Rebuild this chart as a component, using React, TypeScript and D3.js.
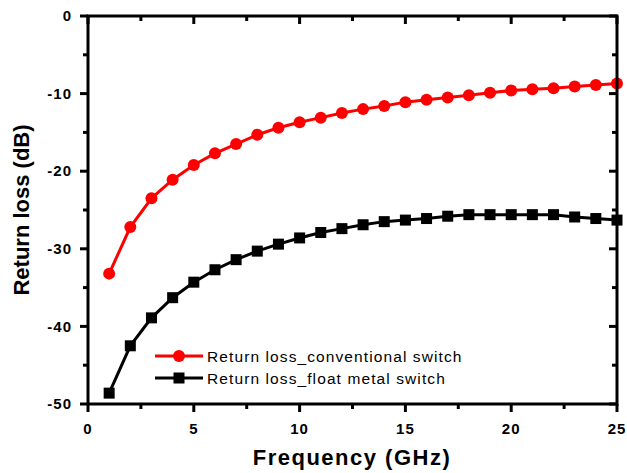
import React from "react";
import * as d3 from "d3";

const freqs = [1,2,3,4,5,6,7,8,9,10,11,12,13,14,15,16,17,18,19,20,21,22,23,24,25];
const conventional = [-33.2,-27.2,-23.5,-21.1,-19.2,-17.7,-16.5,-15.3,-14.4,-13.7,-13.1,-12.5,-12.0,-11.6,-11.1,-10.8,-10.5,-10.2,-9.9,-9.6,-9.45,-9.3,-9.1,-8.9,-8.7];
const floatMetal = [-48.6,-42.5,-38.9,-36.3,-34.3,-32.7,-31.4,-30.3,-29.4,-28.6,-27.9,-27.4,-26.9,-26.5,-26.3,-26.1,-25.8,-25.6,-25.6,-25.6,-25.6,-25.6,-25.9,-26.1,-26.3];
const xTicks = [0,5,10,15,20,25];
const yTicks = [0,-10,-20,-30,-40,-50];
const xMinor = [2.5,7.5,12.5,17.5,22.5];
const yMinor = [-5,-15,-25,-35,-45];
const legendLabels = ["Return loss_conventional switch", "Return loss_float metal switch"];

export default function App() {
  const W = 627, H = 473;
  const L = 88, R = 617, T = 16, B = 404;
  const x = d3.scaleLinear().domain([0, 25]).range([L, R]);
  const y = d3.scaleLinear().domain([-50, 0]).range([B, T]);
  const pathOf = (vals: number[]) =>
    d3.line<number>().x((_, i) => x(freqs[i])).y(d => y(d))(vals) || "";
  const font = "Arial, 'Liberation Sans', sans-serif";
  const sq = 11;
  return (
    <svg width={W} height={H} style={{ position: "absolute", left: 0, top: 0 }}>
      <rect x={0} y={0} width={W} height={H} fill="#fff" />
      {/* series */}
      <path d={pathOf(conventional)} fill="none" stroke="#ff0000" strokeWidth={3} />
      {conventional.map((v, i) => (
        <circle key={"c" + i} cx={x(freqs[i])} cy={y(v)} r={6} fill="#ff0000" />
      ))}
      <path d={pathOf(floatMetal)} fill="none" stroke="#000" strokeWidth={3} />
      {floatMetal.map((v, i) => (
        <rect key={"s" + i} x={x(freqs[i]) - sq / 2} y={y(v) - sq / 2} width={sq} height={sq} fill="#000" />
      ))}
      {/* frame */}
      <rect x={L} y={T} width={R - L} height={B - T} fill="none" stroke="#000" strokeWidth={3} />
      {/* x ticks */}
      {xTicks.map(t => (
        <g key={"xt" + t}>
          <line x1={x(t)} x2={x(t)} y1={B} y2={B + 8} stroke="#000" strokeWidth={3} />
          <line x1={x(t)} x2={x(t)} y1={T} y2={T + 8} stroke="#000" strokeWidth={3} />
          <text x={x(t)} y={434} textAnchor="middle" fontFamily={font} fontWeight="bold" fontSize={15} letterSpacing={1}>{t}</text>
        </g>
      ))}
      {xMinor.map(t => (
        <g key={"xm" + t}>
          <line x1={x(t)} x2={x(t)} y1={B} y2={B + 5} stroke="#000" strokeWidth={3} />
          <line x1={x(t)} x2={x(t)} y1={T} y2={T + 5} stroke="#000" strokeWidth={3} />
        </g>
      ))}
      {yTicks.map(t => (
        <g key={"yt" + t}>
          <line x1={L - 8} x2={L} y1={y(t)} y2={y(t)} stroke="#000" strokeWidth={3} />
          <line x1={R - 8} x2={R} y1={y(t)} y2={y(t)} stroke="#000" strokeWidth={3} />
          <text x={72} y={y(t)} dy="0.35em" textAnchor="end" fontFamily={font} fontWeight="bold" fontSize={15} letterSpacing={1}>{t}</text>
        </g>
      ))}
      {yMinor.map(t => (
        <g key={"ym" + t}>
          <line x1={L - 5} x2={L} y1={y(t)} y2={y(t)} stroke="#000" strokeWidth={3} />
          <line x1={R - 5} x2={R} y1={y(t)} y2={y(t)} stroke="#000" strokeWidth={3} />
        </g>
      ))}
      {/* axis titles */}
      <text x={352} y={465} textAnchor="middle" fontFamily={font} fontWeight="bold" fontSize={22} letterSpacing={1.5}>Frequency (GHz)</text>
      <text transform={`translate(29,210) rotate(-90)`} textAnchor="middle" fontFamily={font} fontWeight="bold" fontSize={22}>Return loss (dB)</text>
      {/* legend */}
      <g>
        <line x1={155} x2={203} y1={356} y2={356} stroke="#ff0000" strokeWidth={3} />
        <circle cx={179} cy={356} r={6} fill="#ff0000" />
        <text x={207} y={361.5} fontFamily={font} fontSize={15.5} letterSpacing={1.1}>{legendLabels[0]}</text>
        <line x1={155} x2={203} y1={378} y2={378} stroke="#000" strokeWidth={3} />
        <rect x={179 - sq / 2} y={378 - sq / 2} width={sq} height={sq} fill="#000" />
        <text x={207} y={383.5} fontFamily={font} fontSize={15.5} letterSpacing={1.1}>{legendLabels[1]}</text>
      </g>
    </svg>
  );
}
